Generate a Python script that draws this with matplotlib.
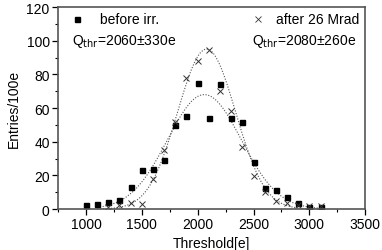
import numpy as np
from matplotlib import pyplot as plt
from matplotlib.ticker import MultipleLocator

plt.rcParams['font.family'] = ['Liberation Sans', 'DejaVu Sans']

# before irradiation (squares)
thr_before = [1000, 1100, 1200, 1300, 1400, 1500, 1600, 1700, 1800, 1900, 2000,
              2100, 2200, 2300, 2400, 2500, 2600, 2700, 2800, 2900, 3000, 3100]
cnt_before = [2.4, 3, 4, 5.2, 13, 23, 24, 29, 50, 55, 75,
              54, 74, 54, 52, 28, 12.5, 11.5, 7, 3.6, 1.2, 1.2]

# after 26 Mrad (crosses)
thr_after = [1200, 1300, 1400, 1500, 1600, 1700, 1800, 1900, 2000, 2100,
             2200, 2300, 2400, 2500, 2600, 2700, 2800, 2900, 3000, 3100]
cnt_after = [1.5, 2.2, 3.6, 3.2, 18, 35, 52, 78, 88, 94.5,
             70, 58, 37, 19.6, 10, 4.7, 3.5, 2.4, 1.8, 1.8]

# gaussian fit parameters (mean, sigma, amplitude)
fit_before = (2060, 330, 68)
fit_after = (2080, 260, 95)

fig = plt.figure(figsize=(3.82, 2.51), dpi=100)
ax = fig.add_axes([0.152, 0.163, 0.804, 0.805])

xs = np.linspace(1100, 3100, 200)
for mu, sig, amp in (fit_before, fit_after):
    ax.plot(xs, amp * np.exp(-(xs - mu) ** 2 / (2 * sig ** 2)),
            ls=(0, (1, 1.5)), color='#555555', lw=0.8)

ax.plot(thr_before, cnt_before, 's', color='black', ms=3.6, ls='none')
ax.plot(thr_after, cnt_after, 'x', color='#333333', ms=4.5, mew=0.7, ls='none')

ax.set_xlim(750, 3500)
ax.set_ylim(0, 120)
ax.xaxis.set_minor_locator(MultipleLocator(250))
ax.yaxis.set_major_locator(MultipleLocator(20))
ax.yaxis.set_minor_locator(MultipleLocator(10))
ax.set_xticks([1000, 1500, 2000, 2500, 3000, 3500])
ax.tick_params(which='major', direction='out', length=4, width=0.9, labelsize=10, pad=2)
ax.tick_params(which='minor', direction='out', length=2.5, width=0.8)

for s in ax.spines.values():
    s.set_color('#555555')
    s.set_linewidth(1.2)

ax.set_xlabel('Threshold[e]', fontsize=10, labelpad=3)
ax.set_ylabel('Entries/100e', fontsize=10, labelpad=4)

# legend-like annotations
ax.plot([920], [113], 's', color='black', ms=3.6)
ax.text(1126, 113, 'before irr.', fontsize=10, va='center')
ax.text(875, 100, r'Q$_{\rm thr}$=2060±330e', fontsize=10, va='center')
ax.plot([2541], [113], 'x', color='#333333', ms=4, mew=0.6)
ax.text(2703, 113, 'after 26 Mrad', fontsize=10, va='center')
ax.text(2488, 100, r'Q$_{\rm thr}$=2080±260e', fontsize=10, va='center')

fig.savefig('out.png', dpi=100)
